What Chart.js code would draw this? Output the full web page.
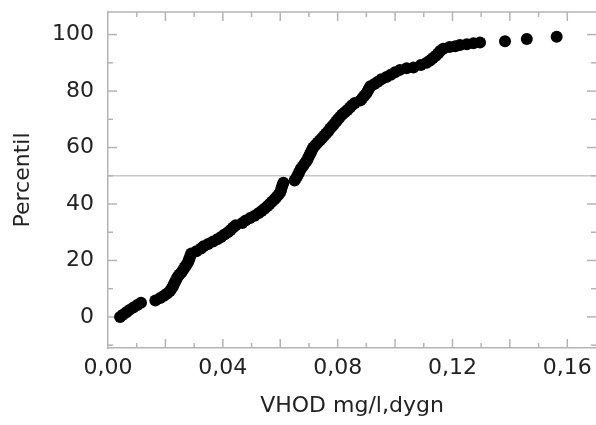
<!DOCTYPE html>
<html>
<head>
<meta charset="utf-8">
<script src="https://cdn.jsdelivr.net/npm/chart.js@4"></script>
<style>
  html, body { margin: 0; background: #fff; }
  #wrap { width: 596px; height: 425px; }
</style>
</head>
<body>
<div id="wrap"><canvas id="chart"></canvas></div>
<script>
// VHOD mg/l,dygn (x)
const vhod = [
  0.0042, 0.0052, 0.0064, 0.0075, 0.0088, 0.0102, 0.0115, 0.0165, 0.0182, 0.0195,
  0.0206, 0.0216, 0.0221, 0.0226, 0.0230, 0.0234, 0.0238, 0.0243, 0.0249, 0.0256,
  0.0262, 0.0267, 0.0272, 0.0278, 0.0281, 0.0284, 0.0287, 0.0290, 0.0308, 0.0324,
  0.0333, 0.0349, 0.0366, 0.0381, 0.0394, 0.0406, 0.0418, 0.0427, 0.0436, 0.0445,
  0.0468, 0.0480, 0.0495, 0.0511, 0.0524, 0.0535, 0.0545, 0.0555, 0.0563, 0.0571,
  0.0580, 0.0587, 0.0594, 0.0600, 0.0603, 0.0605, 0.0608, 0.0611, 0.0650, 0.0656,
  0.0660, 0.0664, 0.0668, 0.0672, 0.0678, 0.0684, 0.0690, 0.0695, 0.0699, 0.0703,
  0.0707, 0.0711, 0.0715, 0.0722, 0.0730, 0.0738, 0.0745, 0.0753, 0.0760, 0.0767,
  0.0774, 0.0781, 0.0788, 0.0795, 0.0801, 0.0808, 0.0816, 0.0825, 0.0834, 0.0843,
  0.0850, 0.0860, 0.0880, 0.0886, 0.0893, 0.0900, 0.0905, 0.0909, 0.0914, 0.0928,
  0.0940, 0.0952, 0.0970, 0.0985, 0.1000, 0.1017, 0.1040, 0.1064, 0.1090, 0.1110,
  0.1122, 0.1132, 0.1142, 0.1150, 0.1157, 0.1168, 0.1190, 0.1210, 0.1226, 0.1250,
  0.1273, 0.1296, 0.1383, 0.1459, 0.1563
];
// Percentil (y)
const percentil = [
  0.0, 0.8, 1.7, 2.5, 3.3, 4.2, 5.0, 5.8, 6.7, 7.5,
  8.3, 9.2, 10.0, 10.8, 11.7, 12.5, 13.3, 14.2, 15.0, 15.8,
  16.7, 17.5, 18.3, 19.2, 20.0, 20.8, 21.7, 22.5, 23.3, 24.2,
  25.0, 25.8, 26.7, 27.5, 28.3, 29.2, 30.0, 30.8, 31.7, 32.5,
  33.3, 34.2, 35.0, 35.8, 36.7, 37.5, 38.3, 39.2, 40.0, 40.8,
  41.7, 42.5, 43.3, 44.2, 45.0, 45.8, 46.7, 47.5, 48.3, 49.2,
  50.0, 50.8, 51.7, 52.5, 53.3, 54.2, 55.0, 55.8, 56.7, 57.5,
  58.3, 59.2, 60.0, 60.8, 61.7, 62.5, 63.3, 64.2, 65.0, 65.8,
  66.7, 67.5, 68.3, 69.2, 70.0, 70.8, 71.7, 72.5, 73.3, 74.2,
  75.0, 75.8, 76.7, 77.5, 78.3, 79.2, 80.0, 80.8, 81.7, 82.5,
  83.3, 84.2, 85.0, 85.8, 86.7, 87.5, 88.1, 88.3, 89.2, 90.0,
  90.8, 91.7, 92.5, 93.3, 94.2, 95.0, 95.6, 95.9, 96.3, 96.6,
  96.9, 97.2, 97.6, 98.4, 99.2
];

const xTicks = [0, 0.04, 0.08, 0.12, 0.16];
const xTickLabels = ['0,00', '0,04', '0,08', '0,12', '0,16'];
const yTicks = [0, 20, 40, 60, 80, 100];
const xTickMarks = [0.01, 0.02, 0.03, 0.04, 0.05, 0.06, 0.07, 0.08, 0.09, 0.10, 0.11, 0.12, 0.13, 0.14, 0.15, 0.16];
const yTickMarks = [-10, 0, 10, 20, 30, 40, 50, 60, 70, 80, 90, 100];
const medianLine = 50;

const axisGray = '#b4b4b4';

// inward tick marks on all four sides, top border and the 50 % line
const frame = {
  id: 'frame',
  beforeDatasetsDraw(chart) {
    const { ctx, chartArea: a, scales: { x, y } } = chart;
    const seg = (x1, y1, x2, y2) => { ctx.beginPath(); ctx.moveTo(x1, y1); ctx.lineTo(x2, y2); ctx.stroke(); };
    ctx.save();
    ctx.lineWidth = 1.5;
    ctx.strokeStyle = '#c8c8c8';
    const ym = y.getPixelForValue(medianLine);
    seg(a.left, ym, a.right, ym);

    ctx.strokeStyle = axisGray;
    seg(a.left, a.top, a.right, a.top);
    xTickMarks.forEach(v => {
      const px = x.getPixelForValue(v);
      const len = Math.round(v * 100) % 2 === 0 ? 9 : 5;
      seg(px, a.bottom, px, a.bottom - len);
      seg(px, a.top, px, a.top + len);
    });
    yTickMarks.forEach(v => {
      const py = y.getPixelForValue(v);
      const len = v % 20 === 0 ? 9 : 5;
      seg(a.left, py, a.left + len, py);
      seg(a.right, py, a.right - len, py);
    });
    ctx.restore();
  }
};

Chart.defaults.font.family = 'DejaVu Sans';
Chart.defaults.font.size = 22;
Chart.defaults.color = '#222';

new Chart(document.getElementById('chart'), {
  type: 'scatter',
  data: {
    datasets: [{
      data: vhod.map((v, i) => ({ x: v, y: percentil[i] })),
      backgroundColor: '#000',
      borderWidth: 0,
      pointRadius: 6,
    }],
  },
  options: {
    responsive: true,
    maintainAspectRatio: false,
    animation: false,
    layout: { autoPadding: false, padding: { top: 12, right: 0, left: 0, bottom: 0 } },
    plugins: { legend: { display: false }, tooltip: { enabled: false } },
    scales: {
      x: {
        type: 'linear',
        min: 0,
        max: 0.17,
        afterBuildTicks: s => { s.ticks = xTicks.map(v => ({ value: v })); },
        afterFit: s => { s.height = 77; s.paddingLeft = 0; s.paddingRight = 0; },
        ticks: { padding: 7, maxRotation: 0, callback: (v, i) => xTickLabels[i] },
        grid: { display: false, drawTicks: false },
        border: { display: true, color: axisGray, width: 1.5 },
        title: { display: true, text: 'VHOD mg/l,dygn', padding: { top: 0, bottom: 6 } },
      },
      y: {
        min: -11,
        max: 108,
        afterBuildTicks: s => { s.ticks = yTicks.map(v => ({ value: v })); },
        afterFit: s => { s.width = 108; s.paddingTop = 0; s.paddingBottom = 0; },
        ticks: { padding: 14 },
        grid: { display: false, drawTicks: false },
        border: { display: true, color: axisGray, width: 1.5 },
        title: { display: true, text: 'Percentil', padding: { top: 10, bottom: 0 } },
      },
    },
  },
  plugins: [frame],
});
</script>
</body>
</html>
